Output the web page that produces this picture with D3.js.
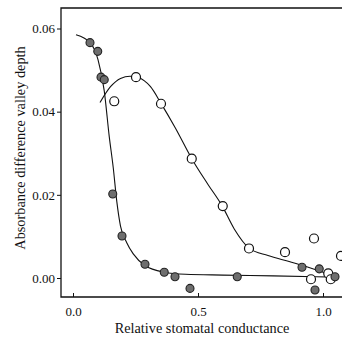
<!DOCTYPE html>
<html><head><meta charset="utf-8">
<script src="https://cdn.jsdelivr.net/npm/d3@7"></script>
<style>body{margin:0;background:#fff}svg{display:block}</style>
</head><body>
<script>
// Data
const filledX = [0.068, 0.099, 0.112, 0.125, 0.159, 0.196, 0.288, 0.365, 0.408, 0.468, 0.657, 0.916, 0.985, 1.048, 0.968];
const filledY = [0.0566, 0.0545, 0.0483, 0.0477, 0.0202, 0.0101, 0.0033, 0.0014, 0.0003, -0.0025, 0.0003, 0.0026, 0.0022, 0.0003, -0.0029];
const openX = [0.165, 0.252, 0.352, 0.475, 0.599, 0.704, 0.848, 0.964, 1.072, 0.952, 1.021, 1.031];
const openY = [0.0425, 0.0483, 0.0419, 0.0287, 0.0173, 0.0071, 0.0062, 0.0095, 0.0053, -0.0003, 0.0011, -0.0003];
// fitted curves
const fitFilledX = [0.012, 0.07, 0.10, 0.125, 0.145, 0.161, 0.175, 0.19, 0.215, 0.241, 0.288, 0.365, 0.45, 0.6, 0.8, 1.05];
const fitFilledY = [0.0585, 0.0565, 0.0525, 0.045, 0.034, 0.0265, 0.0185, 0.0125, 0.0085, 0.0058, 0.003, 0.0014, 0.0009, 0.0007, 0.0005, 0.0002];
const fitOpenX = [0.108, 0.15, 0.19, 0.228, 0.26, 0.31, 0.352, 0.41, 0.475, 0.54, 0.596, 0.645, 0.704, 0.78, 0.868, 0.95, 1.045];
const fitOpenY = [0.0422, 0.0460, 0.0480, 0.0485, 0.0482, 0.0460, 0.0420, 0.0360, 0.0287, 0.0225, 0.0174, 0.0118, 0.0072, 0.0054, 0.0039, 0.0024, 0.0004];
const xTicks = [0.0, 0.5, 1.0];
const yTicks = [0.00, 0.02, 0.04, 0.06];

const W = 342, H = 338;
const pL = 61, pT = 8, pB = 297, pR = 342;
const svg = d3.select("body").append("svg").attr("width", W).attr("height", H);
const x = d3.scaleLinear().domain([0, 1]).range([73, 323]);
const y = d3.scaleLinear().domain([0, 0.06]).range([278, 28.5]);
const font = "Liberation Serif, Times New Roman, serif";

svg.append("defs").append("clipPath").attr("id", "c")
  .append("rect").attr("x", pL).attr("y", pT).attr("width", pR - pL).attr("height", pB - pT);

// frame: left, top, bottom
svg.append("path").attr("d", `M${pR},${pT}H${pL}V${pB}H${pR}`)
  .attr("fill", "none").attr("stroke", "#111").attr("stroke-width", 1.3);

// y axis
const yAxis = d3.axisLeft(y).tickValues(yTicks).tickFormat(d3.format(".2f")).tickSize(4).tickSizeOuter(0).tickPadding(2);
const ya = svg.append("g").attr("transform", `translate(${pL},0)`).call(yAxis);
ya.select(".domain").remove();
ya.selectAll("text").attr("font-family", font).attr("font-size", 13).attr("fill", "#111");
ya.selectAll("line").attr("stroke", "#111");

// x axis (inward ticks)
const xAxis = d3.axisBottom(x).tickValues(xTicks).tickFormat(d3.format(".1f")).tickSize(-4).tickSizeOuter(0).tickPadding(10);
const xa = svg.append("g").attr("transform", `translate(0,${pB})`).call(xAxis);
xa.select(".domain").remove();
xa.selectAll("text").attr("font-family", font).attr("font-size", 13).attr("fill", "#111");
xa.selectAll("line").attr("stroke", "#111");

// titles
svg.append("text").attr("x", 202).attr("y", 333).attr("text-anchor", "middle")
  .attr("font-family", font).attr("font-size", 14.3).attr("fill", "#111").text("Relative stomatal conductance");
svg.append("text").attr("transform", "translate(25,148) rotate(-90)").attr("text-anchor", "middle")
  .attr("font-family", font).attr("font-size", 14.3).attr("fill", "#111").text("Absorbance difference valley depth");

const plot = svg.append("g").attr("clip-path", "url(#c)");
const line = d3.line().x(d => x(d[0])).y(d => y(d[1])).curve(d3.curveMonotoneX);
plot.append("path").attr("d", line(d3.zip(fitFilledX, fitFilledY)))
  .attr("fill", "none").attr("stroke", "#111").attr("stroke-width", 1.1);
plot.append("path").attr("d", line(d3.zip(fitOpenX, fitOpenY)))
  .attr("fill", "none").attr("stroke", "#111").attr("stroke-width", 1.1);

plot.selectAll(".o").data(d3.zip(openX, openY)).join("circle")
  .attr("cx", d => x(d[0])).attr("cy", d => y(d[1])).attr("r", 4.5)
  .attr("fill", "#fff").attr("stroke", "#111").attr("stroke-width", 1.2);
plot.selectAll(".f").data(d3.zip(filledX, filledY)).join("circle")
  .attr("cx", d => x(d[0])).attr("cy", d => y(d[1])).attr("r", 4)
  .attr("fill", "#6e6e6e").attr("stroke", "#222").attr("stroke-width", 1.1);
</script>
</body></html>
